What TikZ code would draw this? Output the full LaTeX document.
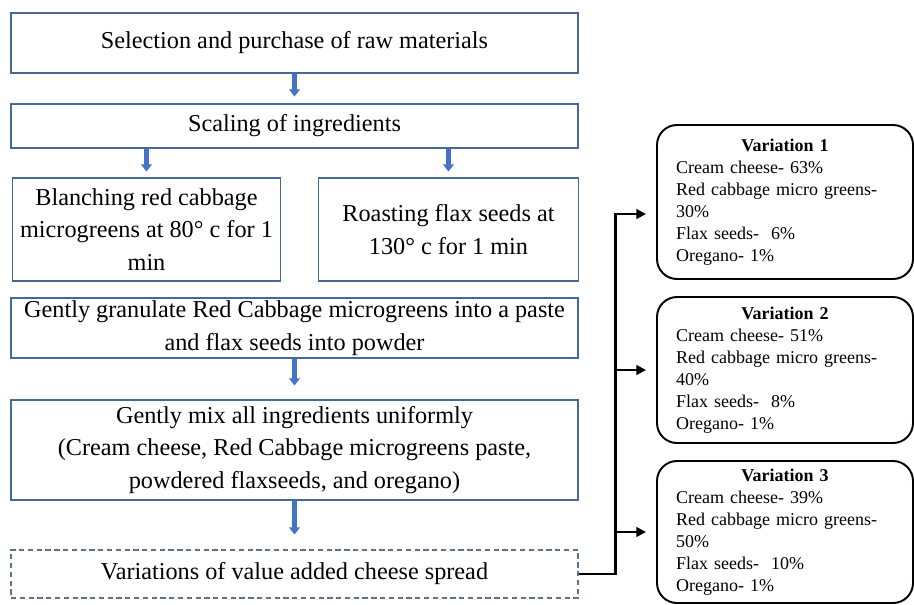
\documentclass[tikz,border=0pt]{standalone}
\usepackage{fontspec}
\setmainfont{Liberation Serif}
\usetikzlibrary{positioning,arrows.meta}
\definecolor{boxline}{RGB}{70,105,150}
\definecolor{flowblue}{RGB}{68,114,196}
\newcommand{\vartitle}[1]{\makebox[\linewidth]{\textbf{Variation #1}}}

\begin{document}
\begin{tikzpicture}
      \tikzset{
        box/.style={rectangle,draw=boxline,line width=0.6pt,inner sep=0pt,align=center,minimum width=11.34cm,font={\fontsize{13.8}{18.4}\selectfont}},
        varbox/.style={rectangle,rounded corners=0.4cm,draw,line width=1.1pt,inner sep=0pt,minimum width=5.12cm,text width=4.36cm,align=left,font={\fontsize{10.25}{12.5}\selectfont}},
        flow/.style={draw=flowblue,line width=2.5pt,-{Triangle[width=6pt,length=4pt]}},
        link/.style={line width=1.2pt,-{Triangle[width=5.5pt,length=5.5pt]}}
      }
      \useasboundingbox (0,0) rectangle (18.28,-12.08);

      \node[box,minimum height=1.2cm] (select) at (5.89,-0.86) {Selection and purchase of raw materials};
      \node[box,minimum height=0.88cm,below of=select,node distance=1.66cm] (scale) {Scaling of ingredients};
      \node[box,minimum width=5.36cm,minimum height=2.06cm,below of=scale,node distance=2.07cm,xshift=-2.96cm] (cab) {Blanching red cabbage\\ microgreens at 80° c for 1\\ min};
      \node[box,minimum width=5.2cm,minimum height=2.06cm,right of=cab,node distance=6.04cm] (flax) {Roasting flax seeds at\\ 130° c for 1 min};
      \node[box,minimum height=1.2cm,below of=scale,node distance=4.04cm] (grind) {Gently granulate Red Cabbage microgreens into a paste\\ and flax seeds into powder};
      \node[box,minimum height=2cm,below of=grind,node distance=2.44cm] (mix) {Gently mix all ingredients uniformly\\ (Cream cheese, Red Cabbage microgreens paste,\\ powdered flaxseeds, and oregano)};
      \node[box,draw=boxline!60!gray,densely dashed,minimum height=0.96cm,below of=mix,node distance=2.48cm] (spread) {Variations of value added cheese spread};

      \node[varbox,minimum height=3.08cm] (var1) at (15.7,-4.04) {\vartitle{1}\\ Cream cheese- 63\%\\ Red cabbage micro greens-\\ 30\%\\ Flax seeds-~ 6\%\\ Oregano- 1\%};
      \node[varbox,minimum height=2.92cm,below of=var1,node distance=3.36cm] (var2) {\vartitle{2}\\ Cream cheese- 51\%\\ Red cabbage micro greens-\\ 40\%\\ Flax seeds-~ 8\%\\ Oregano- 1\%};
      \node[varbox,minimum height=2.84cm,below of=var2,node distance=3.24cm] (var3) {\vartitle{3}\\ Cream cheese- 39\%\\ Red cabbage micro greens-\\ 50\%\\ Flax seeds-~ 10\%\\ Oregano- 1\%};

      \draw[flow,shorten >=0.14cm] (select) -- (scale);
      \draw[flow,shorten >=0.12cm] (scale.south -| cab) -- (cab);
      \draw[flow,shorten >=0.12cm] (scale.south -| flax) -- (flax);
      \draw[flow,shorten >=0.28cm] (grind) -- (mix);
      \draw[flow,shorten >=0.3cm] (mix) -- (spread);

      \coordinate[right=0.74cm of spread.east] (turn);
      \draw[link,shorten >=0.2cm] (spread.east) -- (turn) |- ([yshift=-0.24cm]var1.west);
      \draw[link,shorten >=0.2cm] (turn |- var2.west) -- (var2.west);
      \draw[link,shorten >=0.2cm] (turn |- var3.west) -- (var3.west);
    \end{tikzpicture}
\end{document}
